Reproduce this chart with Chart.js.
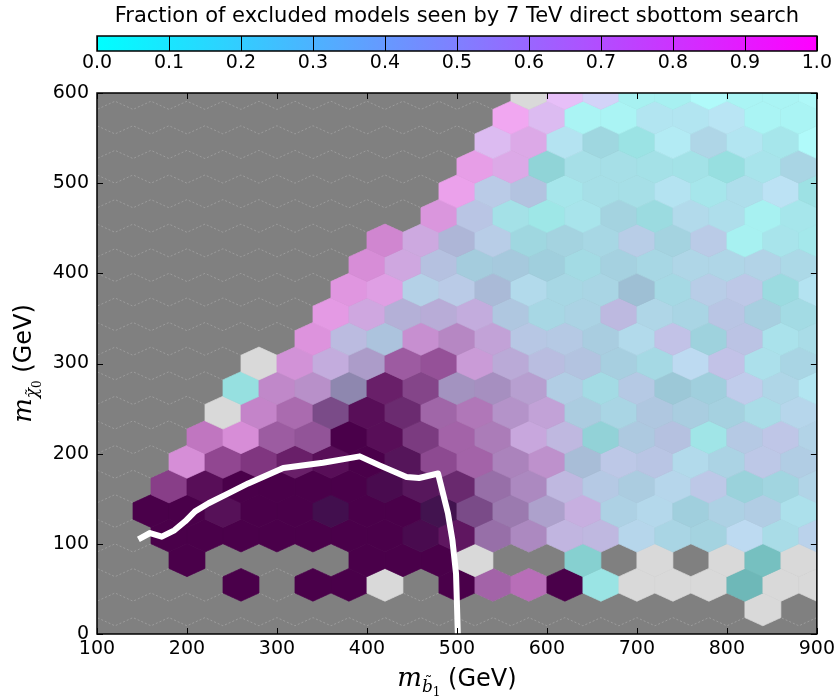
<!DOCTYPE html>
<html>
<head>
<meta charset="utf-8">
<script src="https://cdn.jsdelivr.net/npm/chart.js@4.4.0/dist/chart.umd.min.js"></script>
<style>
  html, body { margin: 0; padding: 0; background: #fff; }
  #wrap { width: 839px; height: 697px; }
</style>
</head>
<body>
<div id="wrap"><canvas id="hexChart" width="839" height="697"></canvas></div>
<script>
// hexbin rows: centre of each row (neutralino mass, GeV)
const rowY = [0, 27.3, 54.5, 81.8, 109.1, 136.4, 163.6, 190.9, 218.2, 245.5, 272.7,
  300.0, 327.3, 354.5, 381.8, 409.1, 436.4, 463.6, 490.9, 518.2, 545.5, 572.7, 600.0];
// sbottom mass of the first cell in each row, cells follow every 40 GeV
const rowStart = [100, 840, 260, 200, 180, 160, 180, 200, 220, 240, 260,
  280, 340, 360, 380, 400, 420, 480, 500, 520, 540, 560, 580];

// fraction of excluded models seen by the sbottom search (null: nothing excluded)
const fracRows = [
  [],
  [null],
  [1, null, 1, 1, null, null, 1, .93, 1, 1, 0, null, null, null, 0, null, null],
  [1, null, null, null, null, 1, 1, 1, null, null, null, 0, null, null, null, null, 0, null],
  [1, 1, 1, 1, 1, 1, 1, .92, .99, .77, .74, .58, .55, .28, .2, .18, .31, .15, .34],
  [1, 1, .97, 1, 1, .85, 1, 1, .82, .82, .72, .58, .66, .26, .26, .18, .26, .31, .15],
  [1, 1, 1, 1, 1, 1, .92, .93, .93, .77, .74, .55, .36, .28, .28, .42, .12, .15, .26],
  [.99, 1, 1, 1, 1, 1, .93, .95, .93, .77, .8, .36, .42, .42, .23, .23, .42, .31],
  [1, 1, .93, .92, 1, 1, .93, .93, .82, .72, .55, .07, .31, .42, .04, .36, .45, .28],
  [null, .93, .93, .82, 1, .93, .89, .88, .72, .72, .28, .2, .34, .26, .2, .15, .28],
  [0, .88, .77, .55, 1, .93, .61, .66, .66, .31, .12, .36, .2, .18, .42, .23, .15],
  [null, .93, .66, .61, .95, .96, .82, .61, .47, .39, .23, .15, .31, .5, .15, .2],
  [1, .5, .34, .88, .82, .72, .39, .36, .26, .23, .5, .15, .45, .12, .15],
  [1, .77, .53, .58, .66, .34, .18, .23, .53, .23, .2, .42, .23, .12],
  [1, .93, .31, .39, .39, .23, .18, .2, .28, .15, .36, .42, .07, .18],
  [1, .77, .42, .23, .26, .18, .12, .2, .18, .23, .23, .28, .2],
  [1, .74, .45, .36, .12, .18, .18, .36, .18, .39, 0, .09, .04],
  [.96, .42, .09, 0, .09, .18, .07, .23, .18, 0, .07],
  [1, .39, .39, .07, .12, .12, .18, .07, .18, .24, .04],
  [1, .85, .04, .12, .12, .09, .07, .01, .09, .2],
  [.72, .84, .18, .12, .01, .12, .23, .15, .07, 0],
  [1, .72, 0, 0, .15, .15, .2, 0, 0],
  [null, .77, .5, 0, .01, 0, 0, 0, 0]
];

// grey level under each cell (null: empty bin)
const greyRows = [
  [],
  [.85],
  [0, null, 0, 0, .85, null, 0, .52, .61, 0, .85, .85, .85, .85, .61, .85, .85],
  [0, null, null, null, null, 0, 0, 0, .85, null, null, .74, null, .85, null, .85, .65, .85],
  [0, 0, 0, 0, 0, 0, 0, .03, .12, .52, .65, .83, .83, .89, .85, .83, .92, .87, .89],
  [0, 0, .08, 0, 0, .02, 0, 0, .03, .34, .56, .72, .83, .85, .89, .81, .85, .85, .89],
  [.34, .08, 0, 0, 0, 0, .03, .1, .2, .52, .65, .83, .85, .83, .89, .87, .8, .83, .87],
  [.78, .39, .3, .17, .08, 0, .09, .39, .52, .63, .72, .78, .87, .85, .89, .85, .87, .85],
  [.65, .78, .48, .43, 0, .08, .3, .52, .61, .81, .83, .78, .83, .83, .87, .85, .87, .87],
  [.85, .7, .56, .34, .08, .21, .52, .61, .7, .78, .83, .85, .83, .83, .83, .87, .89],
  [.83, .7, .7, .56, .17, .35, .65, .65, .74, .85, .85, .85, .78, .81, .89, .87, .92],
  [.85, .78, .81, .7, .48, .43, .78, .78, .83, .83, .83, .85, .92, .87, .89, .85],
  [.81, .83, .81, .74, .67, .78, .85, .85, .83, .89, .87, .81, .85, .89, .87],
  [.85, .83, .78, .78, .81, .83, .85, .85, .83, .87, .85, .85, .83, .85],
  [.83, .85, .87, .87, .78, .89, .85, .85, .76, .85, .87, .87, .83, .92],
  [.78, .83, .83, .81, .81, .81, .85, .83, .85, .87, .87, .87, .87],
  [.74, .83, .78, .87, .83, .83, .85, .87, .83, .87, .92, .89, .89],
  [.81, .85, .87, .87, .89, .83, .83, .89, .89, .92, .89],
  [.89, .87, .83, .89, .87, .87, .92, .89, .89, .94, .85],
  [.87, .87, .78, .87, .87, .87, .87, .83, .89, .85],
  [.92, .87, .92, .83, .85, .94, .87, .92, .89, .97],
  [.92, .92, .94, .94, .92, .92, .94, .94, .94],
  [.85, .96, .96, .92, .92, .97, .94, .94, .96]
];

// 7 TeV exclusion contour
const contourX = [146, 159, 172, 186, 198, 209, 224, 246, 268, 307, 351, 392, 414, 444, 458, 479, 490, 495, 499, 501];
const contourY = [105, 112, 108, 115, 125, 136, 145, 156, 167, 184, 190, 197, 187, 174, 173, 178, 134, 104, 67, 0];

const xTicks = [100, 200, 300, 400, 500, 600, 700, 800, 900];
const yTicks = [0, 100, 200, 300, 400, 500, 600];
const barTicks = [0, 0.1, 0.2, 0.3, 0.4, 0.5, 0.6, 0.7, 0.8, 0.9, 1.0];

const BIN_DX = 40;          // cell spacing in x (GeV)
const BIN_SY = 600 / 11;    // hexbin cell height parameter (GeV)
const OVERLAY = 0.29;       // opacity of the cool colour layer over the grey layer
const SANS = "'DejaVu Sans', sans-serif";
const SERIF = "'DejaVu Serif', serif";

function cool(f) {
  return [255 * f, 255 * (1 - f), 255];
}

function cellColor(f, g) {
  const L = 255 * g;
  if (f === null) {
    const v = Math.round(L);
    return `rgb(${v},${v},${v})`;
  }
  const c = cool(f).map(v => Math.round(OVERLAY * v + (1 - OVERLAY) * L));
  return `rgb(${c[0]},${c[1]},${c[2]})`;
}

// background, empty-grid outlines and the hex cells
const hexLayer = {
  id: 'hexLayer',
  beforeDatasetsDraw(chart) {
    const { ctx, chartArea: a, scales: { x, y } } = chart;
    ctx.save();
    ctx.beginPath();
    ctx.rect(a.left, a.top, a.width, a.height);
    ctx.clip();
    ctx.fillStyle = '#808080';
    ctx.fillRect(a.left, a.top, a.width, a.height);

    // dotted zigzags of the empty hex grid
    ctx.strokeStyle = '#9b9b9b';
    ctx.lineWidth = 1;
    ctx.setLineDash([2, 2]);
    rowY.forEach((cy, k) => {
      let cx = rowStart[k];
      while (cx > 100 - BIN_DX) cx -= BIN_DX;
      ctx.beginPath();
      ctx.moveTo(x.getPixelForValue(cx - BIN_DX / 2), y.getPixelForValue(cy + BIN_SY / 6));
      for (; cx < 900 + BIN_DX; cx += BIN_DX) {
        ctx.lineTo(x.getPixelForValue(cx), y.getPixelForValue(cy + BIN_SY / 3));
        ctx.lineTo(x.getPixelForValue(cx + BIN_DX / 2), y.getPixelForValue(cy + BIN_SY / 6));
      }
      ctx.stroke();
    });
    ctx.setLineDash([]);

    rowY.forEach((cy, k) => {
      greyRows[k].forEach((g, i) => {
        if (g === null) return;
        const cx = rowStart[k] + i * BIN_DX;
        const pts = [
          [cx + BIN_DX / 2, cy - BIN_SY / 6], [cx + BIN_DX / 2, cy + BIN_SY / 6],
          [cx, cy + BIN_SY / 3], [cx - BIN_DX / 2, cy + BIN_SY / 6],
          [cx - BIN_DX / 2, cy - BIN_SY / 6], [cx, cy - BIN_SY / 3]
        ];
        ctx.beginPath();
        pts.forEach(([px, py], j) => {
          const X = x.getPixelForValue(px), Y = y.getPixelForValue(py);
          if (j === 0) ctx.moveTo(X, Y); else ctx.lineTo(X, Y);
        });
        ctx.closePath();
        const col = cellColor(fracRows[k][i], g);
        ctx.fillStyle = col;
        ctx.strokeStyle = col;
        ctx.lineWidth = 0.7;
        ctx.fill();
        ctx.stroke();
      });
    });
    ctx.restore();
  }
};

// frame, inward ticks, colour bar and the axis labels
const decorations = {
  id: 'decorations',
  afterDraw(chart) {
    const { ctx, chartArea: a, scales: { x, y } } = chart;
    ctx.save();
    ctx.strokeStyle = '#000';
    ctx.lineWidth = 1;
    xTicks.forEach(v => {
      const px = Math.round(x.getPixelForValue(v)) + 0.5;
      ctx.beginPath();
      ctx.moveTo(px, a.bottom); ctx.lineTo(px, a.bottom - 6);
      ctx.moveTo(px, a.top); ctx.lineTo(px, a.top + 6);
      ctx.stroke();
    });
    yTicks.forEach(v => {
      const py = Math.round(y.getPixelForValue(v)) + 0.5;
      ctx.beginPath();
      ctx.moveTo(a.left, py); ctx.lineTo(a.left + 6, py);
      ctx.moveTo(a.right, py); ctx.lineTo(a.right - 6, py);
      ctx.stroke();
    });
    ctx.lineWidth = 1.5;
    ctx.strokeRect(a.left, a.top, a.width, a.height);

    // colour bar
    const barTop = 36, barH = 15;
    const grad = ctx.createLinearGradient(a.left, 0, a.right, 0);
    grad.addColorStop(0, 'rgb(0,255,255)');
    grad.addColorStop(1, 'rgb(255,0,255)');
    ctx.fillStyle = grad;
    ctx.fillRect(a.left, barTop, a.width, barH);
    ctx.lineWidth = 1;
    ctx.fillStyle = '#000';
    ctx.font = `19px ${SANS}`;
    ctx.textAlign = 'center';
    ctx.textBaseline = 'top';
    barTicks.forEach(t => {
      const px = Math.round(a.left + t * a.width) + 0.5;
      ctx.beginPath();
      ctx.moveTo(px, barTop); ctx.lineTo(px, barTop + barH);
      ctx.stroke();
      ctx.fillText(t.toFixed(1), a.left + t * a.width, barTop + barH + 3);
    });
    ctx.lineWidth = 1.5;
    ctx.strokeRect(a.left, barTop, a.width, barH);
    ctx.textBaseline = 'middle';
    ctx.font = `21px ${SANS}`;
    ctx.fillText('Fraction of excluded models seen by 7 TeV direct sbottom search', (a.left + a.right) / 2, 17);

    // axis labels with math-style symbols
    drawMassLabel(ctx, (a.left + a.right) / 2, 686, 'b', '1', 9);
    ctx.translate(31, (a.top + a.bottom) / 2);
    ctx.rotate(-Math.PI / 2);
    drawMassLabel(ctx, 0, 0, 'χ', '0', 4);
    ctx.restore();
  }
};

function drawMassLabel(ctx, cx, baseline, sym, idx, tildeLift) {
  const mFont = `italic 26px ${SERIF}`;
  const subFont = `italic 17px ${SERIF}`;
  const idxFont = `12px ${SERIF}`;
  const unitFont = `24px ${SANS}`;
  ctx.font = mFont; const wm = ctx.measureText('m').width;
  ctx.font = subFont; const ws = ctx.measureText(sym).width;
  ctx.font = idxFont; const wi = ctx.measureText(idx).width;
  ctx.font = unitFont; const wu = ctx.measureText(' (GeV)').width;
  let px = cx - (wm + ws + wi + wu) / 2;
  ctx.textBaseline = 'alphabetic';
  ctx.fillStyle = '#000';
  ctx.textAlign = 'left';
  ctx.font = mFont; ctx.fillText('m', px, baseline); px += wm;
  ctx.font = subFont; ctx.fillText(sym, px, baseline + 6);
  ctx.textAlign = 'center';
  ctx.font = `15px ${SERIF}`;
  ctx.fillText('˜', px + ws * 0.6, baseline + 6 - tildeLift + 4);
  ctx.textAlign = 'left';
  px += ws;
  ctx.font = idxFont; ctx.fillText(idx, px, baseline + 10); px += wi;
  ctx.font = unitFont; ctx.fillText(' (GeV)', px, baseline);
}

new Chart(document.getElementById('hexChart'), {
  type: 'scatter',
  data: {
    datasets: [{
      label: 'exclusion',
      data: contourX.map((v, i) => ({ x: v, y: contourY[i] })),
      showLine: true,
      borderColor: '#ffffff',
      borderWidth: 6,
      borderJoinStyle: 'round',
      pointRadius: 0,
      tension: 0
    }]
  },
  options: {
    responsive: false,
    animation: false,
    devicePixelRatio: 1,
    layout: { padding: { left: 0, right: 21, top: 93, bottom: 0 } },
    plugins: { legend: { display: false }, tooltip: { enabled: false } },
    scales: {
      x: {
        type: 'linear', min: 100, max: 900,
        grid: { display: false, drawTicks: false },
        border: { display: false },
        ticks: { color: '#000', font: { family: SANS, size: 19 }, padding: 4, maxRotation: 0 },
        afterBuildTicks: s => { s.ticks = xTicks.map(v => ({ value: v })); },
        afterFit: s => { s.height = 63; }
      },
      y: {
        type: 'linear', min: 0, max: 600,
        grid: { display: false, drawTicks: false },
        border: { display: false },
        ticks: { color: '#000', font: { family: SANS, size: 19 }, padding: 8 },
        afterBuildTicks: s => { s.ticks = yTicks.map(v => ({ value: v })); },
        afterFit: s => { s.width = 97; }
      }
    }
  },
  plugins: [hexLayer, decorations]
});
</script>
</body>
</html>
